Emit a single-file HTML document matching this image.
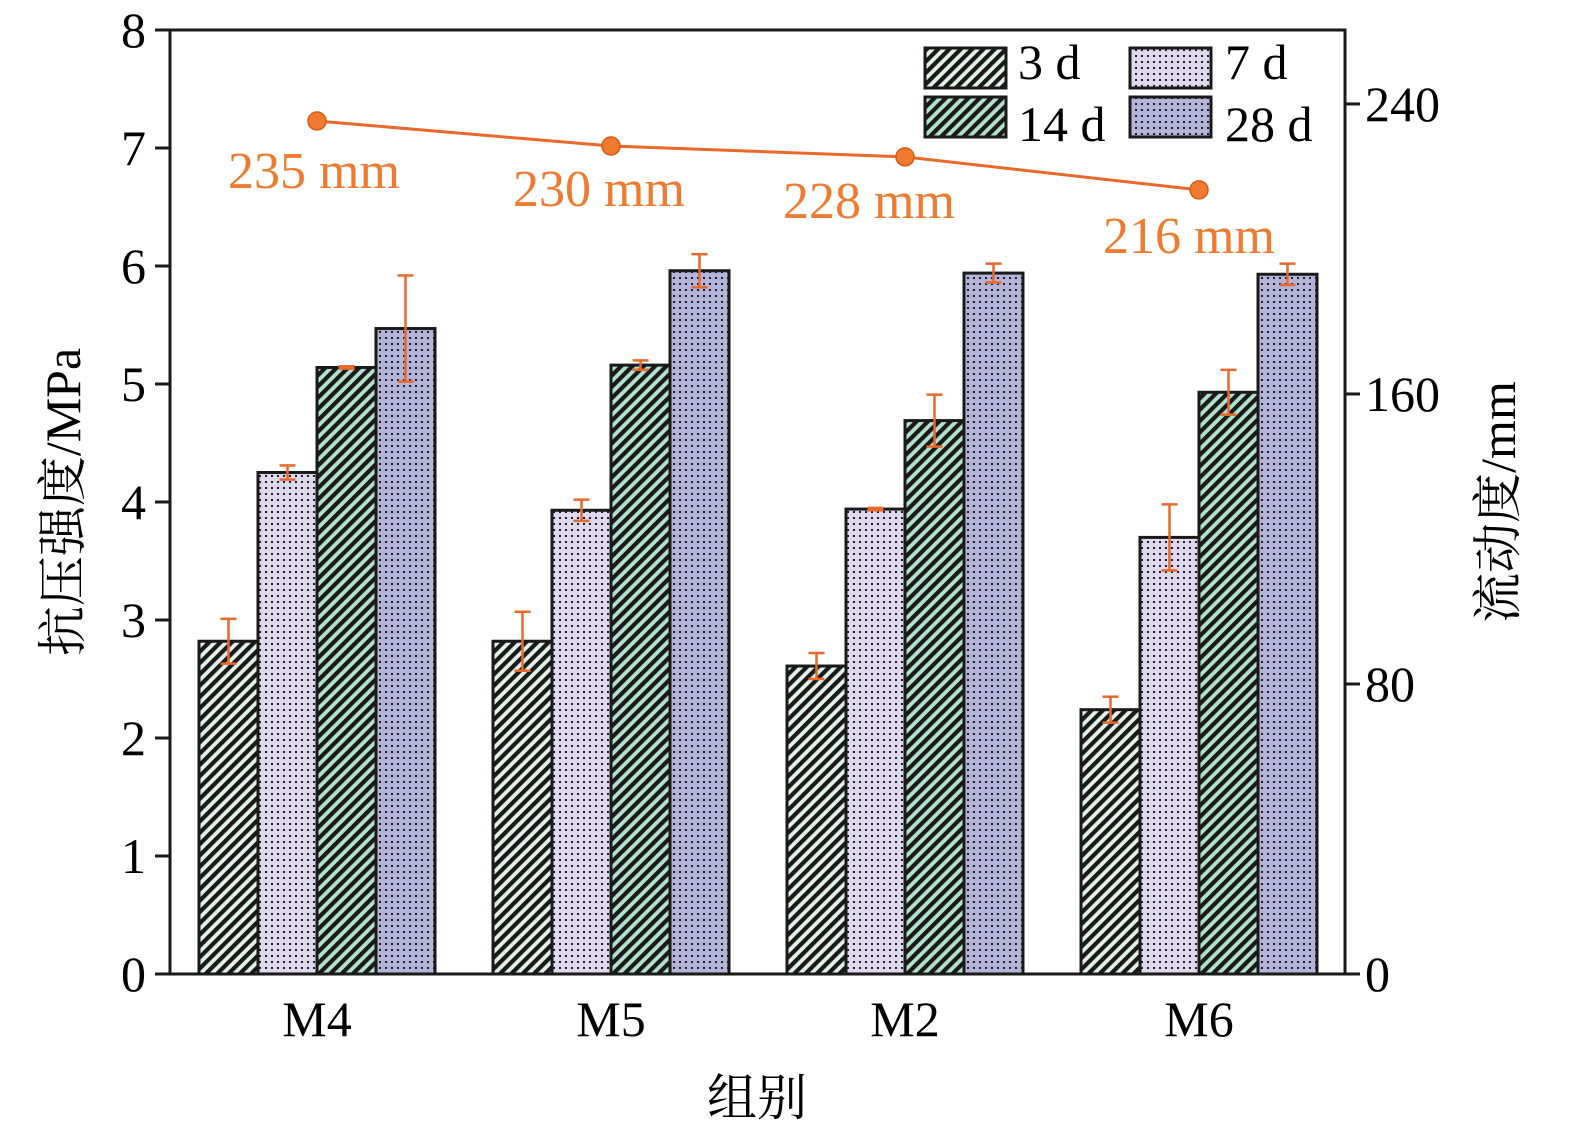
<!DOCTYPE html>
<html><head><meta charset="utf-8"><style>
html,body{margin:0;padding:0;background:#fff;}
svg{display:block;}
text{font-family:"Liberation Serif","Noto Serif CJK SC",serif;}
</style></head><body>
<svg id="chart" width="1575" height="1129" viewBox="0 0 1575 1129" xmlns="http://www.w3.org/2000/svg">
<defs>
<pattern id="hatch3" patternUnits="userSpaceOnUse" width="8" height="8" patternTransform="rotate(45)">
<rect width="8" height="8" fill="#e2f2ea"/><rect width="4.2" height="8" fill="#1a1a1a"/></pattern>
<pattern id="hatch14" patternUnits="userSpaceOnUse" width="8" height="8" patternTransform="rotate(45)">
<rect width="8" height="8" fill="#b2e2cf"/><rect width="4.2" height="8" fill="#1a1a1a"/></pattern>
<pattern id="dot7" patternUnits="userSpaceOnUse" width="6" height="6">
<rect width="6" height="6" fill="#ddd8ec"/><rect x="1" y="1" width="2" height="2" fill="#1a1a2a"/></pattern>
<pattern id="dot28" patternUnits="userSpaceOnUse" width="6" height="6">
<rect width="6" height="6" fill="#b4b4d8"/><rect x="1" y="1" width="2" height="2" fill="#1a1a2a"/></pattern>
</defs>
<g id="bars"></g>
<g id="errs"></g>
<g id="line"></g>
<g id="axes"></g>
<g id="legend">
<rect x="925" y="48" width="81" height="40" fill="url(#hatch3)" stroke="#1a1a1a" stroke-width="3"/>
<text x="1018" y="79" font-size="50">3 d</text>
<rect x="1130" y="48" width="81" height="40" fill="url(#dot7)" stroke="#1a1a1a" stroke-width="3"/>
<text x="1225" y="79" font-size="50">7 d</text>
<rect x="925" y="97" width="81" height="40" fill="url(#hatch14)" stroke="#1a1a1a" stroke-width="3"/>
<text x="1018" y="141" font-size="50">14 d</text>
<rect x="1130" y="97" width="81" height="40" fill="url(#dot28)" stroke="#1a1a1a" stroke-width="3"/>
<text x="1225" y="141" font-size="50">28 d</text>
</g>
</svg>
<script>
const categories = ["M4","M5","M2","M6"];
const seriesNames = ["3d","7d","14d","28d"];
const s3d = [2.82,2.82,2.61,2.24];
const s7d = [4.25,3.93,3.94,3.70];
const s14d = [5.14,5.16,4.69,4.93];
const s28d = [5.47,5.96,5.94,5.93];
const e3d = [0.19,0.25,0.11,0.11];
const e7d = [0.06,0.09,0.01,0.28];
const e14d = [0.01,0.04,0.22,0.19];
const e28d = [0.45,0.14,0.08,0.09];
const flow = [235.3,228.4,225.4,216.3];
const flowLabels = ["235 mm","230 mm","228 mm","216 mm"];
const leftTicks = [0,1,2,3,4,5,6,7,8];
const rightTicks = [0,80,160,240];

const NS="http://www.w3.org/2000/svg";
const X0=170,X1=1345,Y0=974,Y1=30;
const yL=v=>Y0-(v/8)*(Y0-Y1);
const yR=v=>Y0-(v/260.4)*(Y0-Y1);
const groupW=294, barW=59;
const xC=i=>X0+147+i*groupW;
function mk(tag,attrs,parent){const e=document.createElementNS(NS,tag);for(const k in attrs)e.setAttribute(k,attrs[k]);parent.appendChild(e);return e;}
const bars=document.getElementById('bars'),errs=document.getElementById('errs'),line=document.getElementById('line'),axes=document.getElementById('axes');
const series=[s3d,s7d,s14d,s28d],errors=[e3d,e7d,e14d,e28d],fills=["url(#hatch3)","url(#dot7)","url(#hatch14)","url(#dot28)"];
series.forEach((s,j)=>{s.forEach((v,i)=>{
 const x=xC(i)-2*barW+j*barW;
 const r=mk('rect',{x:x,y:yL(v),width:barW,height:Y0-yL(v),fill:fills[j],stroke:"#1a1a1a","stroke-width":3},bars);
 
 
 const cx=x+barW/2,e=errors[j][i];
 const g=mk('g',{stroke:"#e8692a","stroke-width":2.5},errs);
 
 
 mk('line',{x1:cx,x2:cx,y1:yL(v+e),y2:yL(v-e)},g);
 mk('line',{x1:cx-8,x2:cx+8,y1:yL(v+e),y2:yL(v+e)},g);
 mk('line',{x1:cx-8,x2:cx+8,y1:yL(v-e),y2:yL(v-e)},g);
});});
const pts=flow.map((v,i)=>xC(i)+','+yR(v)).join(' ');
const pl=mk('polyline',{points:pts,fill:"none",stroke:"#e8692a","stroke-width":3},line);


const lblDx=[-3,-12,-36,-10],lblDy=[67,60,61,63];
flow.forEach((v,i)=>{
 const c=mk('circle',{cx:xC(i),cy:yR(v),r:9,fill:"#f07a30",stroke:"#d85a10","stroke-width":1.5},line);
 
 
 const t=mk('text',{x:xC(i)+lblDx[i],y:yR(v)+lblDy[i],"font-size":52,fill:"#ee7b30","text-anchor":"middle"},line);
 t.textContent=flowLabels[i];
 
 
});
const f=mk('rect',{x:X0,y:Y1,width:X1-X0,height:Y0-Y1,fill:"none",stroke:"#1a1a1a","stroke-width":3},axes);


leftTicks.forEach(v=>{
 const l=mk('line',{x1:X0-15,x2:X0,y1:yL(v),y2:yL(v),stroke:"#1a1a1a","stroke-width":3},axes);
 
 
 const t=mk('text',{x:X0-24,y:yL(v)+17,"font-size":50,"text-anchor":"end"},axes);
 t.textContent=v;
 
 
});
rightTicks.forEach(v=>{
 const l=mk('line',{x1:X1,x2:X1+15,y1:yR(v),y2:yR(v),stroke:"#1a1a1a","stroke-width":3},axes);
 
 
 const t=mk('text',{x:X1+20,y:yR(v)+17,"font-size":50},axes);
 t.textContent=v;
 
 
});
categories.forEach((c,i)=>{
 const t=mk('text',{x:xC(i),y:1036,"font-size":50,"text-anchor":"middle"},axes);
 t.textContent=c;
 
 
});
let t=mk('text',{x:757,y:1115,"font-size":50,"text-anchor":"middle"},axes);
t.textContent="组别";


t=mk('text',{x:0,y:0,"font-size":50,"text-anchor":"middle",transform:"translate(80,502) rotate(-90)"},axes);
t.textContent="抗压强度/MPa";


t=mk('text',{x:0,y:0,"font-size":50,"text-anchor":"middle",transform:"translate(1515,502) rotate(-90)"},axes);
t.textContent="流动度/mm";


</script>
</body></html>
